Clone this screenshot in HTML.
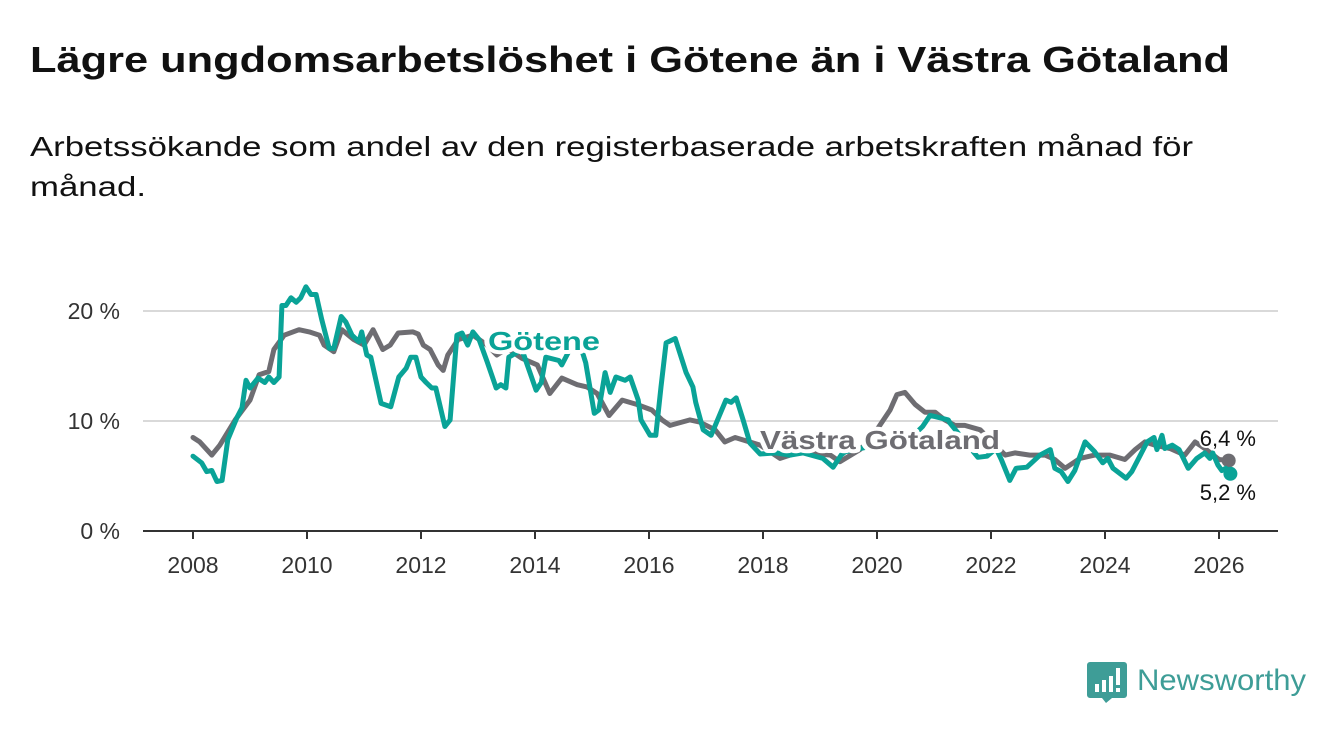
<!DOCTYPE html>
<html><head><meta charset="utf-8"><style>
html,body{margin:0;padding:0;background:#fff;}
svg{display:block;font-family:"Liberation Sans",sans-serif;}
</style></head><body>
<svg id="chart" width="1340" height="734" viewBox="0 0 1340 734" xmlns="http://www.w3.org/2000/svg">
<rect width="1340" height="734" fill="#fff"/>
<text x="30" y="72" font-size="36" font-weight="bold" fill="#111" textLength="1200" lengthAdjust="spacingAndGlyphs">Lägre ungdomsarbetslöshet i Götene än i Västra Götaland</text>
<text x="30" y="156" font-size="28" fill="#111" textLength="1163" lengthAdjust="spacingAndGlyphs">Arbetssökande som andel av den registerbaserade arbetskraften månad för</text>
<text x="30" y="196" font-size="28" fill="#111" textLength="116" lengthAdjust="spacingAndGlyphs">månad.</text>
<g id="grid"></g>
<g id="series"></g>
<g id="labels"></g>
<g>
<path d="M1090 662 h34 a3 3 0 0 1 3 3 v30 a3 3 0 0 1 -3 3 h-12 l-6 5 l-4 -5 h-12 a3 3 0 0 1 -3 -3 v-30 a3 3 0 0 1 3 -3z" fill="#3e9d97"/>
<rect x="1095" y="684" width="4" height="8" fill="#fff"/><rect x="1102" y="680" width="4" height="12" fill="#fff"/><rect x="1109" y="676" width="4" height="16" fill="#fff"/><rect x="1116" y="668" width="4" height="17" fill="#fff"/><rect x="1116" y="688" width="4" height="4" fill="#fff"/>
<text x="1137" y="690" font-size="30" fill="#3e9d97" textLength="169" lengthAdjust="spacingAndGlyphs">Newsworthy</text>
</g>
</svg>
<script>
const yTicks = [0, 10, 20];
const yTickLabels = ["0 %", "10 %", "20 %"];
const xTicks = [2008, 2010, 2012, 2014, 2016, 2018, 2020, 2022, 2024, 2026];
const vgDates = [2008.0,2008.12,2008.33,2008.47,2008.74,2009.0,2009.16,2009.33,2009.42,2009.6,2009.86,2010.04,2010.22,2010.3,2010.47,2010.61,2010.82,2011.0,2011.16,2011.33,2011.46,2011.6,2011.86,2011.95,2012.04,2012.16,2012.3,2012.39,2012.47,2012.65,2012.91,2013.16,2013.33,2013.51,2013.77,2014.04,2014.26,2014.47,2014.74,2014.91,2015.09,2015.3,2015.53,2015.79,2016.05,2016.23,2016.37,2016.72,2016.89,2017.16,2017.33,2017.51,2017.95,2018.3,2018.65,2019.18,2019.35,2019.7,2019.88,2020.05,2020.23,2020.35,2020.49,2020.67,2020.84,2021.02,2021.19,2021.37,2021.54,2021.81,2021.98,2022.25,2022.42,2022.68,2022.95,2023.12,2023.3,2023.56,2023.82,2024.09,2024.35,2024.53,2024.7,2024.88,2025.14,2025.4,2025.58,2025.75,2026.0,2026.17];
const vgValues = [8.5,8.1,6.9,7.8,10.1,11.9,14.2,14.5,16.5,17.8,18.3,18.1,17.8,16.9,16.3,18.3,17.4,16.9,18.3,16.5,16.9,18.0,18.1,17.9,16.9,16.5,15.1,14.6,16.0,17.4,17.8,16.9,16.0,16.6,15.7,15.1,12.5,13.9,13.3,13.1,12.5,10.5,11.9,11.5,11.0,10.1,9.6,10.1,9.9,9.2,8.1,8.5,7.8,6.6,7.2,6.9,6.3,7.4,8.3,9.6,11.0,12.4,12.6,11.5,10.8,10.8,10.1,9.6,9.6,9.2,8.3,6.9,7.1,6.9,6.9,6.5,5.7,6.6,6.9,6.9,6.5,7.4,8.1,7.8,7.5,6.9,8.1,7.5,6.5,6.4];
const gtDates = [2008.0,2008.15,2008.24,2008.33,2008.42,2008.51,2008.61,2008.77,2008.86,2008.93,2009.0,2009.14,2009.26,2009.33,2009.42,2009.51,2009.56,2009.63,2009.72,2009.81,2009.89,2009.98,2010.07,2010.16,2010.26,2010.39,2010.47,2010.6,2010.68,2010.79,2010.91,2010.96,2011.05,2011.12,2011.3,2011.47,2011.61,2011.74,2011.82,2011.91,2012.0,2012.09,2012.19,2012.26,2012.42,2012.51,2012.63,2012.72,2012.82,2012.91,2013.02,2013.16,2013.32,2013.4,2013.49,2013.54,2013.77,2014.02,2014.11,2014.19,2014.42,2014.47,2014.74,2014.89,2015.04,2015.12,2015.23,2015.32,2015.42,2015.58,2015.67,2015.81,2015.86,2016.02,2016.12,2016.21,2016.3,2016.46,2016.65,2016.77,2016.82,2016.95,2017.09,2017.26,2017.35,2017.44,2017.53,2017.65,2017.77,2017.95,2018.23,2018.47,2018.7,2019.05,2019.23,2019.37,2019.44,2019.7,2020.0,2020.3,2020.6,2020.8,2020.93,2021.02,2021.25,2021.28,2021.77,2021.93,2022.09,2022.18,2022.33,2022.44,2022.63,2022.86,2023.04,2023.12,2023.23,2023.35,2023.47,2023.65,2023.82,2023.96,2024.05,2024.14,2024.37,2024.47,2024.74,2024.86,2024.91,2025.0,2025.05,2025.18,2025.3,2025.46,2025.61,2025.75,2025.84,2025.89,2025.98,2026.05,2026.12,2026.2];
const gtValues = [6.8,6.2,5.4,5.5,4.5,4.6,8.3,10.3,11.2,13.7,13.0,13.9,13.5,14.0,13.5,14.0,20.5,20.5,21.2,20.8,21.2,22.2,21.5,21.5,19.2,16.6,16.6,19.5,19.0,17.8,17.2,18.1,16.0,15.8,11.6,11.3,14.0,14.8,15.8,15.8,14.0,13.5,13.0,13.0,9.5,10.1,17.8,18.0,16.9,18.1,17.4,15.4,13.0,13.3,13.0,15.8,16.5,12.8,13.5,15.8,15.5,15.1,17.8,15.3,10.7,11.0,14.4,12.6,14.0,13.7,14.0,11.9,10.1,8.7,8.7,13.1,17.1,17.5,14.4,13.1,11.7,9.2,8.7,10.8,11.9,11.7,12.1,10.1,8.0,7.0,7.1,6.9,7.1,6.6,5.8,6.9,7.2,7.5,7.8,8.0,8.5,9.5,10.5,10.4,10.1,9.8,6.7,6.8,7.5,6.5,4.6,5.7,5.8,6.9,7.4,5.7,5.4,4.5,5.5,8.1,7.2,6.2,6.6,5.7,4.8,5.4,8.1,8.5,7.4,8.7,7.5,7.8,7.4,5.7,6.6,7.1,6.6,7.1,6.0,5.5,5.7,5.2];

const NS = "http://www.w3.org/2000/svg";
const X0 = 143, X1 = 1278;
function xs(t){ return 193 + (t - 2008) * 57; }
function ys(v){ return 531 - v * 11; }
function mk(tag, attrs, parent){ const e = document.createElementNS(NS, tag); for (const k in attrs) e.setAttribute(k, attrs[k]); parent.appendChild(e); return e; }

const grid = document.getElementById('grid');
yTicks.forEach((v, i) => {
  if (v !== 0) {
    const g = mk('line', {x1: X0, x2: X1, y1: ys(v), y2: ys(v), stroke: '#d9d9d9', 'stroke-width': 2}, grid);
    
    
  }
  const t = mk('text', {x: 120, y: ys(v) + 8, 'text-anchor': 'end', 'font-size': 23, fill: '#333'}, grid);
  t.textContent = yTickLabels[i];
  
  
});
const axis = mk('line', {x1: X0, x2: X1, y1: ys(0), y2: ys(0), stroke: '#333', 'stroke-width': 2}, grid);


xTicks.forEach(yr => {
  const tk = mk('line', {x1: xs(yr), x2: xs(yr), y1: 531, y2: 539, stroke: '#333', 'stroke-width': 2}, grid);
  
  
  const t = mk('text', {x: xs(yr), y: 573, 'text-anchor': 'middle', 'font-size': 23, fill: '#333'}, grid);
  t.textContent = String(yr);
  
  
});

const series = document.getElementById('series');
function line(dates, vals, color, name){
  const d = dates.map((t, i) => (i ? 'L' : 'M') + xs(t).toFixed(1) + ' ' + ys(vals[i]).toFixed(1)).join(' ');
  const p = mk('path', {d: d, fill: 'none', stroke: color, 'stroke-width': 5, 'stroke-linejoin': 'round', 'stroke-linecap': 'round'}, series);
  
  
  const n = dates.length - 1;
  const c = mk('circle', {cx: xs(dates[n]), cy: ys(vals[n]), r: 7, fill: color}, series);
  
  
}
line(vgDates, vgValues, '#6e6d72', 'vastra-gotaland-line');
line(gtDates, gtValues, '#0aa397', 'gotene-line');

const labels = document.getElementById('labels');
function lab(txt, x, y, color, size, bold, name, anchor, len){
  const t = mk('text', {x: x, y: y, 'font-size': size, fill: color, stroke: '#fff', 'stroke-width': bold ? 8 : 4, 'paint-order': 'stroke', 'stroke-linejoin': 'round', 'font-weight': bold ? 'bold' : 'normal', 'text-anchor': anchor || 'start'}, labels);
  if (len) { t.setAttribute('textLength', len); t.setAttribute('lengthAdjust', 'spacingAndGlyphs'); }
  t.textContent = txt;
  
  
}
lab('Götene', 488, 350, '#0aa397', 26, true, 'gotene-label', 'start', 112);
lab('Västra Götaland', 760, 449, '#6e6d72', 26, true, 'vastra-gotaland-label', 'start', 240);
const n1 = vgValues.length - 1, n2 = gtValues.length - 1;
lab(vgValues[n1].toFixed(1).replace('.', ',') + ' %', 1256, 446, '#111', 22, false, 'vastra-gotaland-end-value', 'end');
lab(gtValues[n2].toFixed(1).replace('.', ',') + ' %', 1256, 500, '#111', 22, false, 'gotene-end-value', 'end');
</script>
</body></html>
